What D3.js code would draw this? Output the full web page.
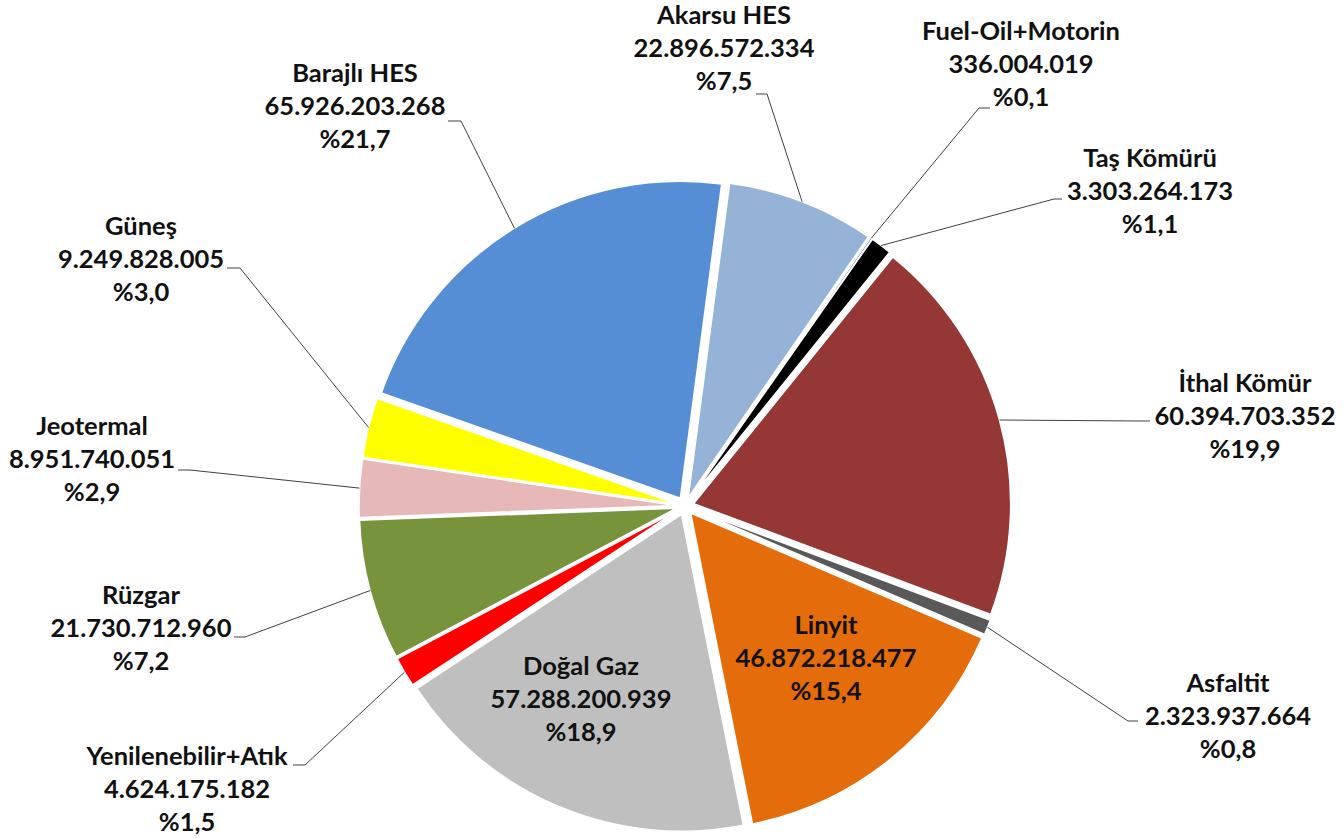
<!DOCTYPE html>
<html>
<head>
<meta charset="utf-8">
<script src="https://cdn.jsdelivr.net/npm/d3@7"></script>
<style>
  body { margin: 0; background: #fff; }
  text { font-family: Lato, "Open Sans", sans-serif; font-weight: 700; fill: #111; }
</style>
</head>
<body>
<div id="chart"></div>
<script>
// electricity generation by source (kWh) and shares
const sources = ["Akarsu HES", "Fuel-Oil+Motorin", "Taş Kömürü", "İthal Kömür", "Asfaltit", "Linyit",
                 "Doğal Gaz", "Yenilenebilir+Atık", "Rüzgar", "Jeotermal", "Güneş", "Barajlı HES"]
const values = [22896572334, 336004019, 3303264173, 60394703352, 2323937664, 46872218477,
                57288200939, 4624175182, 21730712960, 8951740051, 9249828005, 65926203268]
const valueLabels = ["22.896.572.334", "336.004.019", "3.303.264.173", "60.394.703.352", "2.323.937.664", "46.872.218.477",
                     "57.288.200.939", "4.624.175.182", "21.730.712.960", "8.951.740.051", "9.249.828.005", "65.926.203.268"]
const shareLabels = ["%7,5", "%0,1", "%1,1", "%19,9", "%0,8", "%15,4", "%18,9", "%1,5", "%7,2", "%2,9", "%3,0", "%21,7"]
const colors = ["#95b3d7", "#4f81bd", "#000000", "#953735", "#595959", "#e46c0a",
                "#bfbfbf", "#ff0000", "#77933c", "#e6b9b8", "#ffff00", "#558ed5"]

// label layout: centre x, middle-line baseline y, leader start x,y and stub end x
const labelPos = [
  {x: 724,  y: 57,  lx: 756,  ly: 94,  sx: 767},
  {x: 1021, y: 73,  lx: 990,  ly: 108, sx: 979},
  {x: 1150, y: 200, lx: 1062, ly: 199, sx: 1054},
  {x: 1245, y: 425, lx: 1150, ly: 421, sx: 1140},
  {x: 1228, y: 725, lx: 1138, ly: 721, sx: 1128},
  {x: 826,  y: 667, inside: true},
  {x: 581,  y: 708, inside: true},
  {x: 187,  y: 798, lx: 293,  ly: 765, sx: 305},
  {x: 141,  y: 637, lx: 234,  ly: 637, sx: 245},
  {x: 92,   y: 468, lx: 178,  ly: 470, sx: 190},
  {x: 141,  y: 268, lx: 227,  ly: 268, sx: 240},
  {x: 355,  y: 115, lx: 448,  ly: 121, sx: 461}
]

const width = 1344, height = 838
const cx = 685, cy = 506
const radius = 317
const explode = 9
const lineGap = 33

const svg = d3.select("#chart").append("svg")
  .attr("width", width)
  .attr("height", height)

const data = sources.map((s, i) => ({name: s, value: values[i], i: i}))

const start = 7.5 * Math.PI / 180
const pie = d3.pie().sort(null).value(d => d.value)
  .startAngle(start).endAngle(start + 2 * Math.PI)
const arcs = pie(data)

const arc = d3.arc().innerRadius(0).outerRadius(radius)

// offset of an exploded slice
function shift(d) {
  const a = (d.startAngle + d.endAngle) / 2
  return [explode * Math.sin(a), -explode * Math.cos(a)]
}

const g = svg.append("g").attr("transform", `translate(${cx},${cy})`)

g.selectAll("path.slice")
  .data(arcs)
  .enter().append("path")
  .attr("class", "slice")
  .attr("transform", d => { const s = shift(d); return `translate(${s[0]},${s[1]})` })
  .attr("d", arc)
  .attr("fill", d => colors[d.data.i])
  .attr("stroke", "#fff")
  .attr("stroke-width", 1.5)
  .attr("stroke-linejoin", "round")

// leader lines from label to the middle of each slice's arc
arcs.forEach(d => {
  const p = labelPos[d.data.i]
  if (p.inside) return
  const a = (d.startAngle + d.endAngle) / 2
  const s = shift(d)
  const ex = cx + s[0] + radius * Math.sin(a)
  const ey = cy + s[1] - radius * Math.cos(a)
  svg.append("polyline")
    .attr("points", `${p.lx},${p.ly} ${p.sx},${p.ly} ${ex},${ey}`)
    .attr("fill", "none")
    .attr("stroke", "#404040")
    .attr("stroke-width", 1)
})

// labels: name / value / share
const labels = svg.selectAll("text.lbl")
  .data(data)
  .enter().append("text")
  .attr("class", "lbl")
  .attr("text-anchor", "middle")
  .style("font-size", "25.5px")

labels.each(function (d) {
  const p = labelPos[d.i]
  const t = d3.select(this)
  const lines = [d.name, valueLabels[d.i], shareLabels[d.i]]
  lines.forEach((l, k) => {
    t.append("tspan")
      .attr("x", p.x)
      .attr("y", p.y + (k - 1) * lineGap)
      .text(l)
  })
})
</script>
</body>
</html>
